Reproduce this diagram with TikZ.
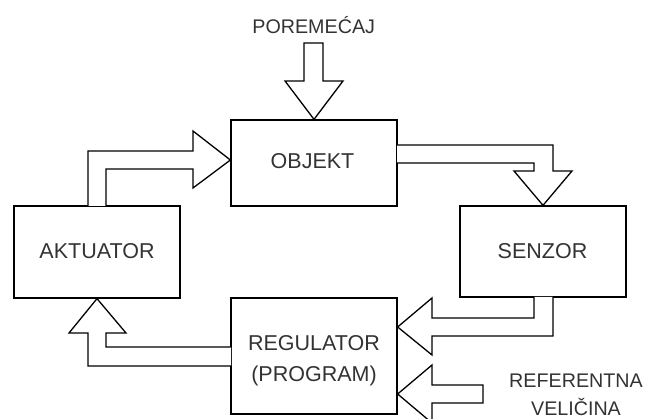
\documentclass[tikz,border=0pt]{standalone}
\usepackage{fontspec}
\setmainfont{Liberation Sans}
\begin{document}
\begin{tikzpicture}[x=1pt,y=-1pt,
  blk/.style={draw=black,line width=1.3pt,fill=white,minimum width=166pt,inner sep=0pt},
  txt/.style={text=black!80,font=\fontsize{21.5}{26}\selectfont,inner sep=0pt,anchor=base},
  barrow/.style={draw=black,line width=1.3pt,fill=white,line join=miter},
  lbl/.style={text=black!80,font=\fontsize{19.7}{25}\selectfont,inner sep=0pt,anchor=base}]
\useasboundingbox (0,0) rectangle (646,419);
\node[blk,minimum height=92pt] (akt) at (97,252) {};
\node[blk,minimum height=86pt] (obj) at (314,163) {};
\node[blk,minimum height=91pt] (sen) at (543,251.5) {};
\node[blk,minimum height=116pt] (reg) at (314,356) {};
\node[txt] (akttxt) at (97,258.3) {AKTUATOR};
\node[txt] (objtxt) at (312.5,168.3) {OBJEKT};
\node[txt] (sentxt) at (542.5,258.3) {SENZOR};
\node[txt] (regtxt1) at (314,350.7) {REGULATOR};
\node[txt] (regtxt2) at (314,381.6) {(PROGRAM)};
\node[lbl] (por) at (313.7,33.3) {POREMEĆAJ};
\node[lbl] (ref1) at (576,387.5) {REFERENTNA};
\node[lbl] (ref2) at (576,415.3) {VELIČINA};
% Aktuator -> Objekt
\draw[barrow] (88,206) -- (88,151) -- (193,151) -- (193,131) -- (obj.west |- 0,160) -- (193,188) -- (193,169) -- (106,169) -- (106,206);
% Objekt -> Senzor
\draw[barrow] (397,145) -- (553,145) -- (553,171) -- (572,171) -- (sen.north) -- (514,171) -- (534,171) -- (534,163) -- (397,163);
% Senzor -> Regulator
\draw[barrow] (534,297) -- (534,318) -- (432,318) -- (432,298) -- (reg.east |- 0,327) -- (432,355) -- (432,336) -- (553,336) -- (553,297);
% Regulator -> Aktuator
\draw[barrow] (231,347) -- (106,347) -- (106,333) -- (126,333) -- (akt.south) -- (69,333) -- (88,333) -- (88,366) -- (231,366);
% Poremecaj
\draw[barrow] (304,43) -- (323,43) -- (323,81) -- (343,81) -- (obj.north) -- (285,81) -- (304,81) -- cycle;
% Referentna
\draw[barrow] (483,385) -- (432,385) -- (432,365) -- (reg.east |- 0,394) -- (432,423) -- (432,403) -- (483,403) -- cycle;
\end{tikzpicture}
\end{document}
